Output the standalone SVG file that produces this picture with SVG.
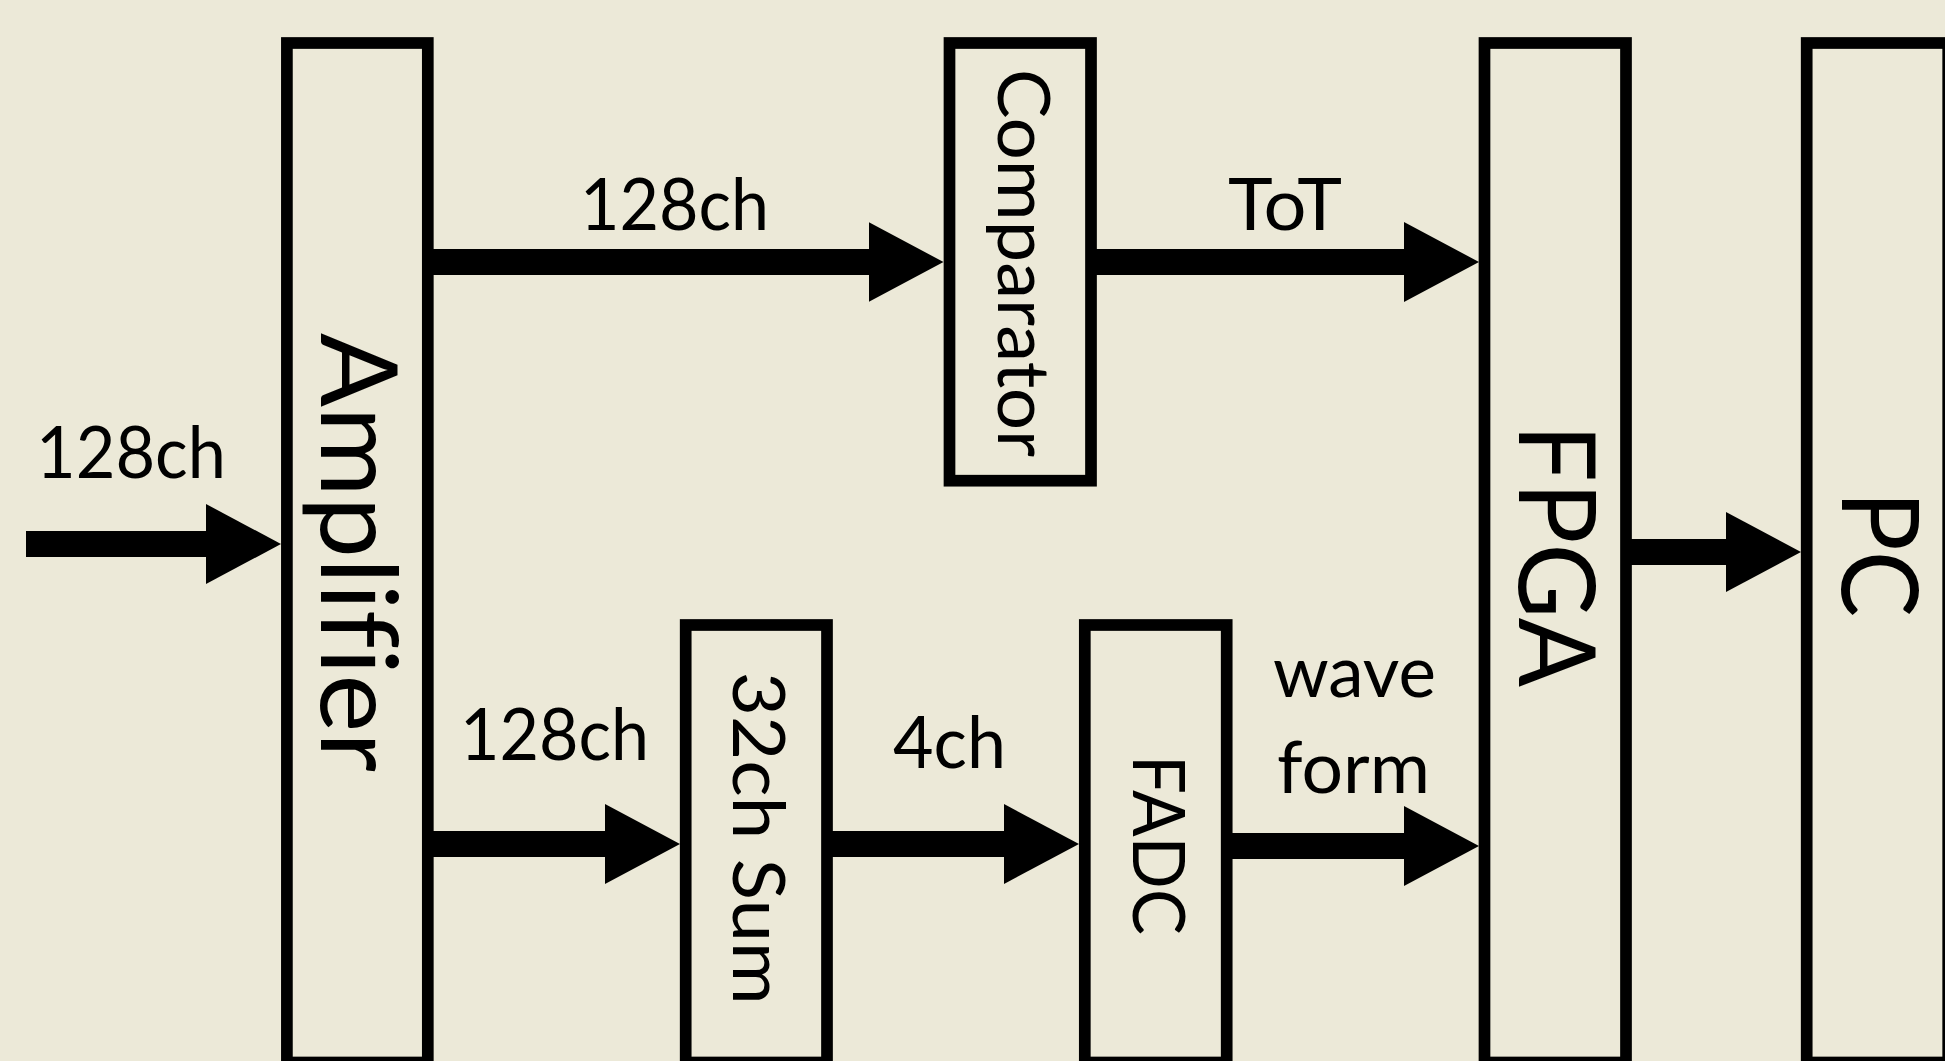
<svg xmlns="http://www.w3.org/2000/svg" width="1945" height="1061" viewBox="0 0 1945 1061">
<style>
.box{fill:none;stroke:#000;stroke-width:11.7}
.conn{stroke:#000;stroke-width:26;fill:none}
.lbl{font-family:Lato,"Liberation Sans",Arial,sans-serif;font-size:71px;fill:#000;font-variant-ligatures:none;font-feature-settings:"liga" 0}
.big{font-family:Lato,"Liberation Sans",Arial,sans-serif;font-size:106px;fill:#000;font-variant-ligatures:none;font-feature-settings:"liga" 0}
</style>
<defs>
<marker id="ah" markerUnits="userSpaceOnUse" markerWidth="76" markerHeight="80" viewBox="0 0 76 80" refX="1" refY="40" orient="auto">
<path d="M0,0 L75,40 L0,80 Z" fill="#000"/>
</marker>
</defs>
<rect width="1945" height="1061" fill="#ECE9D8"/>
<g id="connectors">
<line class="conn" x1="26" y1="544" x2="207" y2="544" marker-end="url(#ah)"/>
<line class="conn" x1="427.8" y1="262" x2="869.5" y2="262" marker-end="url(#ah)"/>
<line class="conn" x1="1091" y1="262" x2="1405" y2="262" marker-end="url(#ah)"/>
<line class="conn" x1="1626" y1="552" x2="1727" y2="552" marker-end="url(#ah)"/>
<line class="conn" x1="427.8" y1="844" x2="606" y2="844" marker-end="url(#ah)"/>
<line class="conn" x1="827" y1="844" x2="1005" y2="844" marker-end="url(#ah)"/>
<line class="conn" x1="1226.7" y1="846" x2="1405" y2="846" marker-end="url(#ah)"/>
<text class="lbl" x="36" y="478.4" textLength="190" lengthAdjust="spacingAndGlyphs">128ch</text>
<text class="lbl" x="580" y="229.6" textLength="189" lengthAdjust="spacingAndGlyphs">128ch</text>
<text class="lbl" x="1228" y="229.6" textLength="114" lengthAdjust="spacingAndGlyphs">ToT</text>
<text class="lbl" x="460" y="760" textLength="189" lengthAdjust="spacingAndGlyphs">128ch</text>
<text class="lbl" x="893" y="768.3" textLength="113" lengthAdjust="spacingAndGlyphs">4ch</text>
<text class="lbl" x="1273" y="697.3" textLength="163" lengthAdjust="spacingAndGlyphs">wave</text>
<text class="lbl" x="1277" y="793.3" textLength="153" lengthAdjust="spacingAndGlyphs">form</text>
</g>
<g id="amplifier">
<rect class="box" x="286.9" y="43" width="140.9" height="1019.5"/>
<text class="big" transform="translate(321.3,333) rotate(90)" textLength="439" lengthAdjust="spacingAndGlyphs">Amplifier</text>
</g>
<g id="comparator">
<rect class="box" x="949.5" y="43" width="141.5" height="437.7"/>
<text class="lbl" transform="translate(998,69) rotate(90)" textLength="388" lengthAdjust="spacingAndGlyphs">Comparator</text>
</g>
<g id="sum">
<rect class="box" x="685.7" y="625" width="141.3" height="437.5"/>
<text class="lbl" transform="translate(733,671.7) rotate(90)" textLength="333" lengthAdjust="spacingAndGlyphs">32ch Sum</text>
</g>
<g id="fadc">
<rect class="box" x="1084.8" y="625" width="141.9" height="437.5"/>
<text class="lbl" transform="translate(1133,755) rotate(90)" textLength="180" lengthAdjust="spacingAndGlyphs">FADC</text>
</g>
<g id="fpga">
<rect class="box" x="1484.5" y="43" width="141.5" height="1019.5"/>
<text class="big" transform="translate(1519,424) rotate(90)" textLength="263" lengthAdjust="spacingAndGlyphs">FPGA</text>
</g>
<g id="pc">
<rect class="box" x="1806.7" y="43" width="141.5" height="1019.5"/>
<text class="big" transform="translate(1842,491) rotate(90)" textLength="126" lengthAdjust="spacingAndGlyphs">PC</text>
</g>
</svg>
